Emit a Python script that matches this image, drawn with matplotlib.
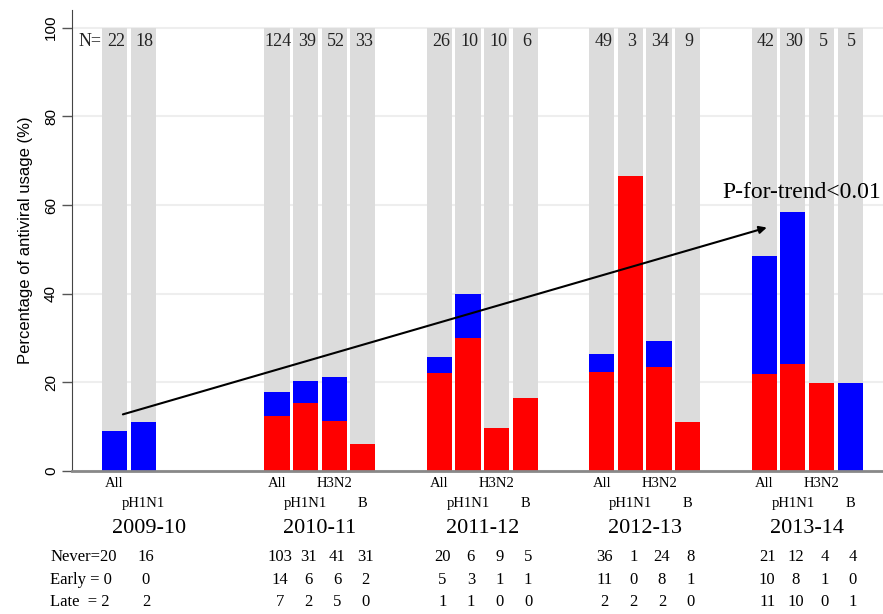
import matplotlib.pyplot as plt

# --- data ---
seasons = ["2009-10", "2010-11", "2011-12", "2012-13", "2013-14"]
subtypes = [["All", "pH1N1"],
            ["All", "pH1N1", "H3N2", "B"],
            ["All", "pH1N1", "H3N2", "B"],
            ["All", "pH1N1", "H3N2", "B"],
            ["All", "pH1N1", "H3N2", "B"]]
n_counts = [[22, 18], [124, 39, 52, 33], [26, 10, 10, 6], [49, 3, 34, 9], [42, 30, 5, 5]]
# lower (red) and upper (blue) segments, % of patients
red_pct = [[0, 0], [12.3, 15.4, 11.3, 6.0], [22.0, 30.0, 9.8, 16.5],
           [22.4, 66.6, 23.5, 11.0], [21.8, 24.1, 19.9, 0]]
blue_pct = [[9.0, 11.1], [5.6, 5.0, 9.8, 0], [3.8, 10.0, 0, 0],
            [4.0, 0, 5.9, 0], [26.7, 34.4, 0, 19.9]]
never = [[20, 16], [103, 31, 41, 31], [20, 6, 9, 5], [36, 1, 24, 8], [21, 12, 4, 4]]
early = [[0, 0], [14, 6, 6, 2], [5, 3, 1, 1], [11, 0, 8, 1], [10, 8, 1, 0]]
late = [[2, 2], [7, 2, 5, 0], [1, 1, 0, 0], [2, 2, 2, 0], [11, 10, 0, 1]]
row_labels = ["Never=", "Early = ", "Late  = "]

serif = ["Liberation Serif", "DejaVu Serif"]
sans = ["Liberation Sans", "DejaVu Sans"]

fig = plt.figure(figsize=(8.83, 6.14), dpi=100)
ax = fig.add_axes([72 / 883, 143 / 614, 811 / 883, 461 / 614])

group_step = 5.68
width = 0.88

for g, season in enumerate(seasons):
    start = g * group_step
    xs = [start + i for i in range(len(subtypes[g]))]
    ax.bar(xs, [100] * len(xs), width=width, color="#dcdcdc", zorder=1)
    ax.bar(xs, red_pct[g], width=width, color="#ff0000", zorder=2)
    ax.bar(xs, blue_pct[g], bottom=red_pct[g], width=width, color="#0000ff", zorder=2)

    for i, x in enumerate(xs):
        # N counts at top
        ax.text(x + 0.05, 97, str(n_counts[g][i]), ha="center", va="center",
                fontsize=13, family=serif, color="#222222", zorder=3)
        # staggered subtype labels
        ylab = -2.8 if i % 2 == 0 else -7.3
        ax.text(x, ylab, subtypes[g][i], ha="center", va="center",
                fontsize=10.5, family=serif, clip_on=False)
        # table of counts
        for r, vals in enumerate([never, early, late]):
            yt = -19.5 - r * 5.0
            if g == 0 and i == 0:
                ax.text(-2.25, yt, row_labels[r] + str(vals[g][i]), ha="left",
                        va="center", fontsize=12, family=serif, clip_on=False)
            else:
                ax.text(x + 0.1, yt, str(vals[g][i]), ha="center", va="center",
                        fontsize=12, family=serif, clip_on=False)

    year_x = start + (1.2 if len(xs) == 2 else 1.5)
    ax.text(year_x, -12.9, season, ha="center", va="center",
            fontsize=16, family=serif, clip_on=False)

ax.text(-0.45, 97, "N=", ha="right", va="center", fontsize=13, family=serif,
        color="#222222", zorder=3)

# trend arrow
ax.annotate("", xy=(22.9, 55.1), xytext=(0.2, 12.6),
            arrowprops=dict(arrowstyle="-|>", color="black", lw=1.5,
                            mutation_scale=11), zorder=4)
ax.text(21.25, 62.8, "P-for-trend<0.01", ha="left", va="center",
        fontsize=17, family=serif, zorder=4)

ax.set_xlim(-1.486, 26.87)
ax.set_ylim(0, 104)
ax.set_yticks([0, 20, 40, 60, 80, 100])
ax.set_xticks([])
ax.yaxis.grid(True, color="#eeeeee", lw=1.5)
ax.set_axisbelow(True)
ax.tick_params(axis="y", length=7, width=1, color="#555555", labelsize=11,
               labelrotation=90, pad=3)
for lab in ax.get_yticklabels():
    lab.set_family(sans)
    lab.set_va("center")
ax.set_ylabel("Percentage of antiviral usage (%)", fontsize=12, family=sans,
              labelpad=8)

for s in ["top", "right"]:
    ax.spines[s].set_visible(False)
ax.spines["left"].set_color("#444444")
ax.spines["bottom"].set_color("#888888")
ax.spines["bottom"].set_linewidth(2)

fig.savefig("out.png", dpi=100)
